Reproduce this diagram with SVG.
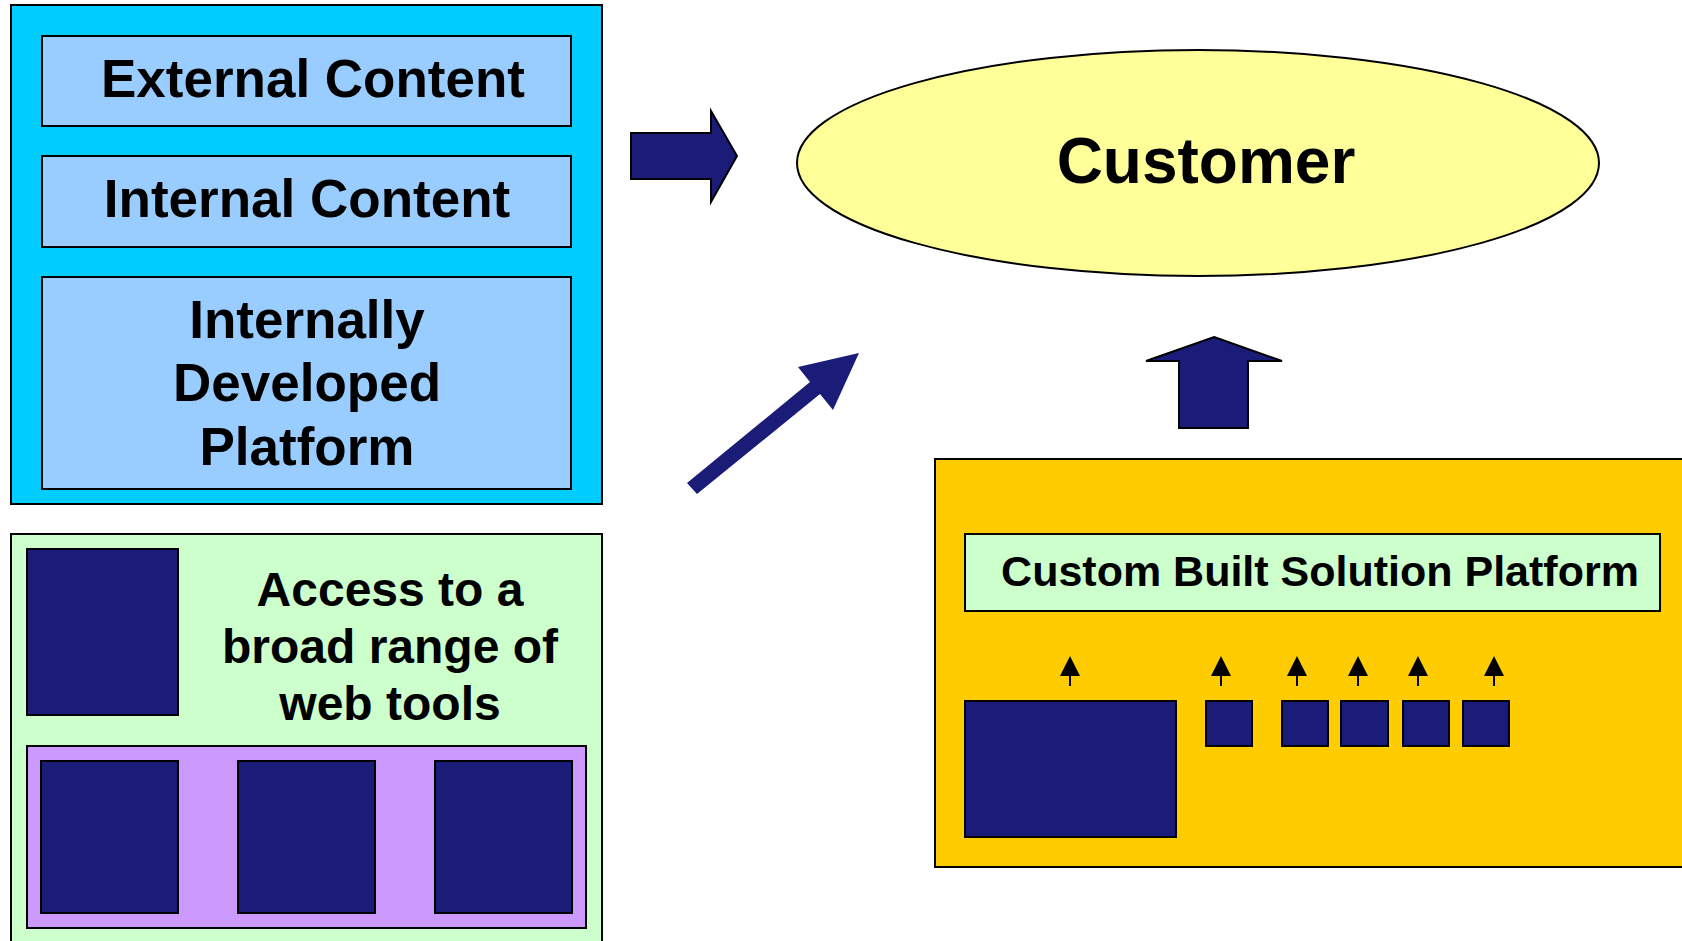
<svg xmlns="http://www.w3.org/2000/svg" width="1682" height="941" viewBox="0 0 1682 941">
  <style>
    .box { stroke: #000; stroke-width: 2; }
    .navy { fill: #1B1B78; stroke: #000; stroke-width: 2; }
    .lbl { font-family: "Liberation Sans", Arial, sans-serif; font-weight: bold; fill: #000; text-anchor: middle; }
  </style>
  <rect width="1682" height="941" fill="#fff"/>

  <!-- Content stack -->
  <g id="content-stack">
    <rect class="box" x="11" y="5" width="591" height="499" fill="#00CCFF"/>
    <g id="external-content">
      <rect class="box" x="42" y="36" width="529" height="90" fill="#99CCFF"/>
      <text class="lbl" x="313" y="97" font-size="53">External Content</text>
    </g>
    <g id="internal-content">
      <rect class="box" x="42" y="156" width="529" height="91" fill="#99CCFF"/>
      <text class="lbl" x="307" y="217" font-size="53">Internal Content</text>
    </g>
    <g id="internal-platform">
      <rect class="box" x="42" y="277" width="529" height="212" fill="#99CCFF"/>
      <text class="lbl" font-size="53"><tspan x="307" y="338">Internally</tspan><tspan x="307" y="401">Developed</tspan><tspan x="307" y="465">Platform</tspan></text>
    </g>
  </g>

  <!-- Web tools panel -->
  <g id="web-tools">
    <rect class="box" x="11" y="534" width="591" height="420" fill="#CCFFCC"/>
    <rect class="navy" x="27" y="549" width="151" height="166"/>
    <text class="lbl" font-size="48"><tspan x="390" y="606">Access to a</tspan><tspan x="390" y="663">broad range of</tspan><tspan x="390" y="720">web tools</tspan></text>
    <rect class="box" x="27" y="746" width="559" height="182" fill="#CC99FF"/>
    <rect class="navy" x="41" y="761" width="137" height="152"/>
    <rect class="navy" x="238" y="761" width="137" height="152"/>
    <rect class="navy" x="435" y="761" width="137" height="152"/>
  </g>

  <!-- Customer -->
  <g id="customer">
    <ellipse class="box" cx="1198" cy="163" rx="401" ry="113" fill="#FFFF99"/>
    <text class="lbl" x="1206" y="183" font-size="64">Customer</text>
  </g>

  <!-- Custom built solution -->
  <g id="custom-solution">
    <rect class="box" x="935" y="459" width="760" height="408" fill="#FFCC00"/>
    <rect class="box" x="965" y="534" width="695" height="77" fill="#CCFFCC"/>
    <text class="lbl" x="1320" y="586" font-size="43">Custom Built Solution Platform</text>
    <rect class="navy" x="965" y="701" width="211" height="136"/>
    <rect class="navy" x="1206" y="701" width="46" height="45"/>
    <rect class="navy" x="1282" y="701" width="46" height="45"/>
    <rect class="navy" x="1341" y="701" width="47" height="45"/>
    <rect class="navy" x="1403" y="701" width="46" height="45"/>
    <rect class="navy" x="1463" y="701" width="46" height="45"/>
    <g id="small-arrows" stroke="#000" stroke-width="2" fill="#000">
      <line x1="1070" y1="686" x2="1070" y2="670"/>
      <polygon points="1070,656 1060,676 1080,676" stroke="none"/>
      <line x1="1221" y1="686" x2="1221" y2="670"/>
      <polygon points="1221,656 1211,676 1231,676" stroke="none"/>
      <line x1="1297" y1="686" x2="1297" y2="670"/>
      <polygon points="1297,656 1287,676 1307,676" stroke="none"/>
      <line x1="1358" y1="686" x2="1358" y2="670"/>
      <polygon points="1358,656 1348,676 1368,676" stroke="none"/>
      <line x1="1418" y1="686" x2="1418" y2="670"/>
      <polygon points="1418,656 1408,676 1428,676" stroke="none"/>
      <line x1="1494" y1="686" x2="1494" y2="670"/>
      <polygon points="1494,656 1484,676 1504,676" stroke="none"/>
    </g>
  </g>

  <!-- Block arrows between parts -->
  <g id="connectors">
    <polygon points="631,133 711,133 711,111 737,156 711,202 711,179 631,179" fill="#1B1B78" stroke="#000" stroke-width="2"/>
    <polygon points="687,483 810,382 798,367 859,353 833,410 820,394 697,494" fill="#1B1B78"/>
    <polygon points="1214,337 1282,361 1248,361 1248,428 1179,428 1179,361 1146,361" fill="#1B1B78" stroke="#000" stroke-width="2"/>
  </g>
</svg>
